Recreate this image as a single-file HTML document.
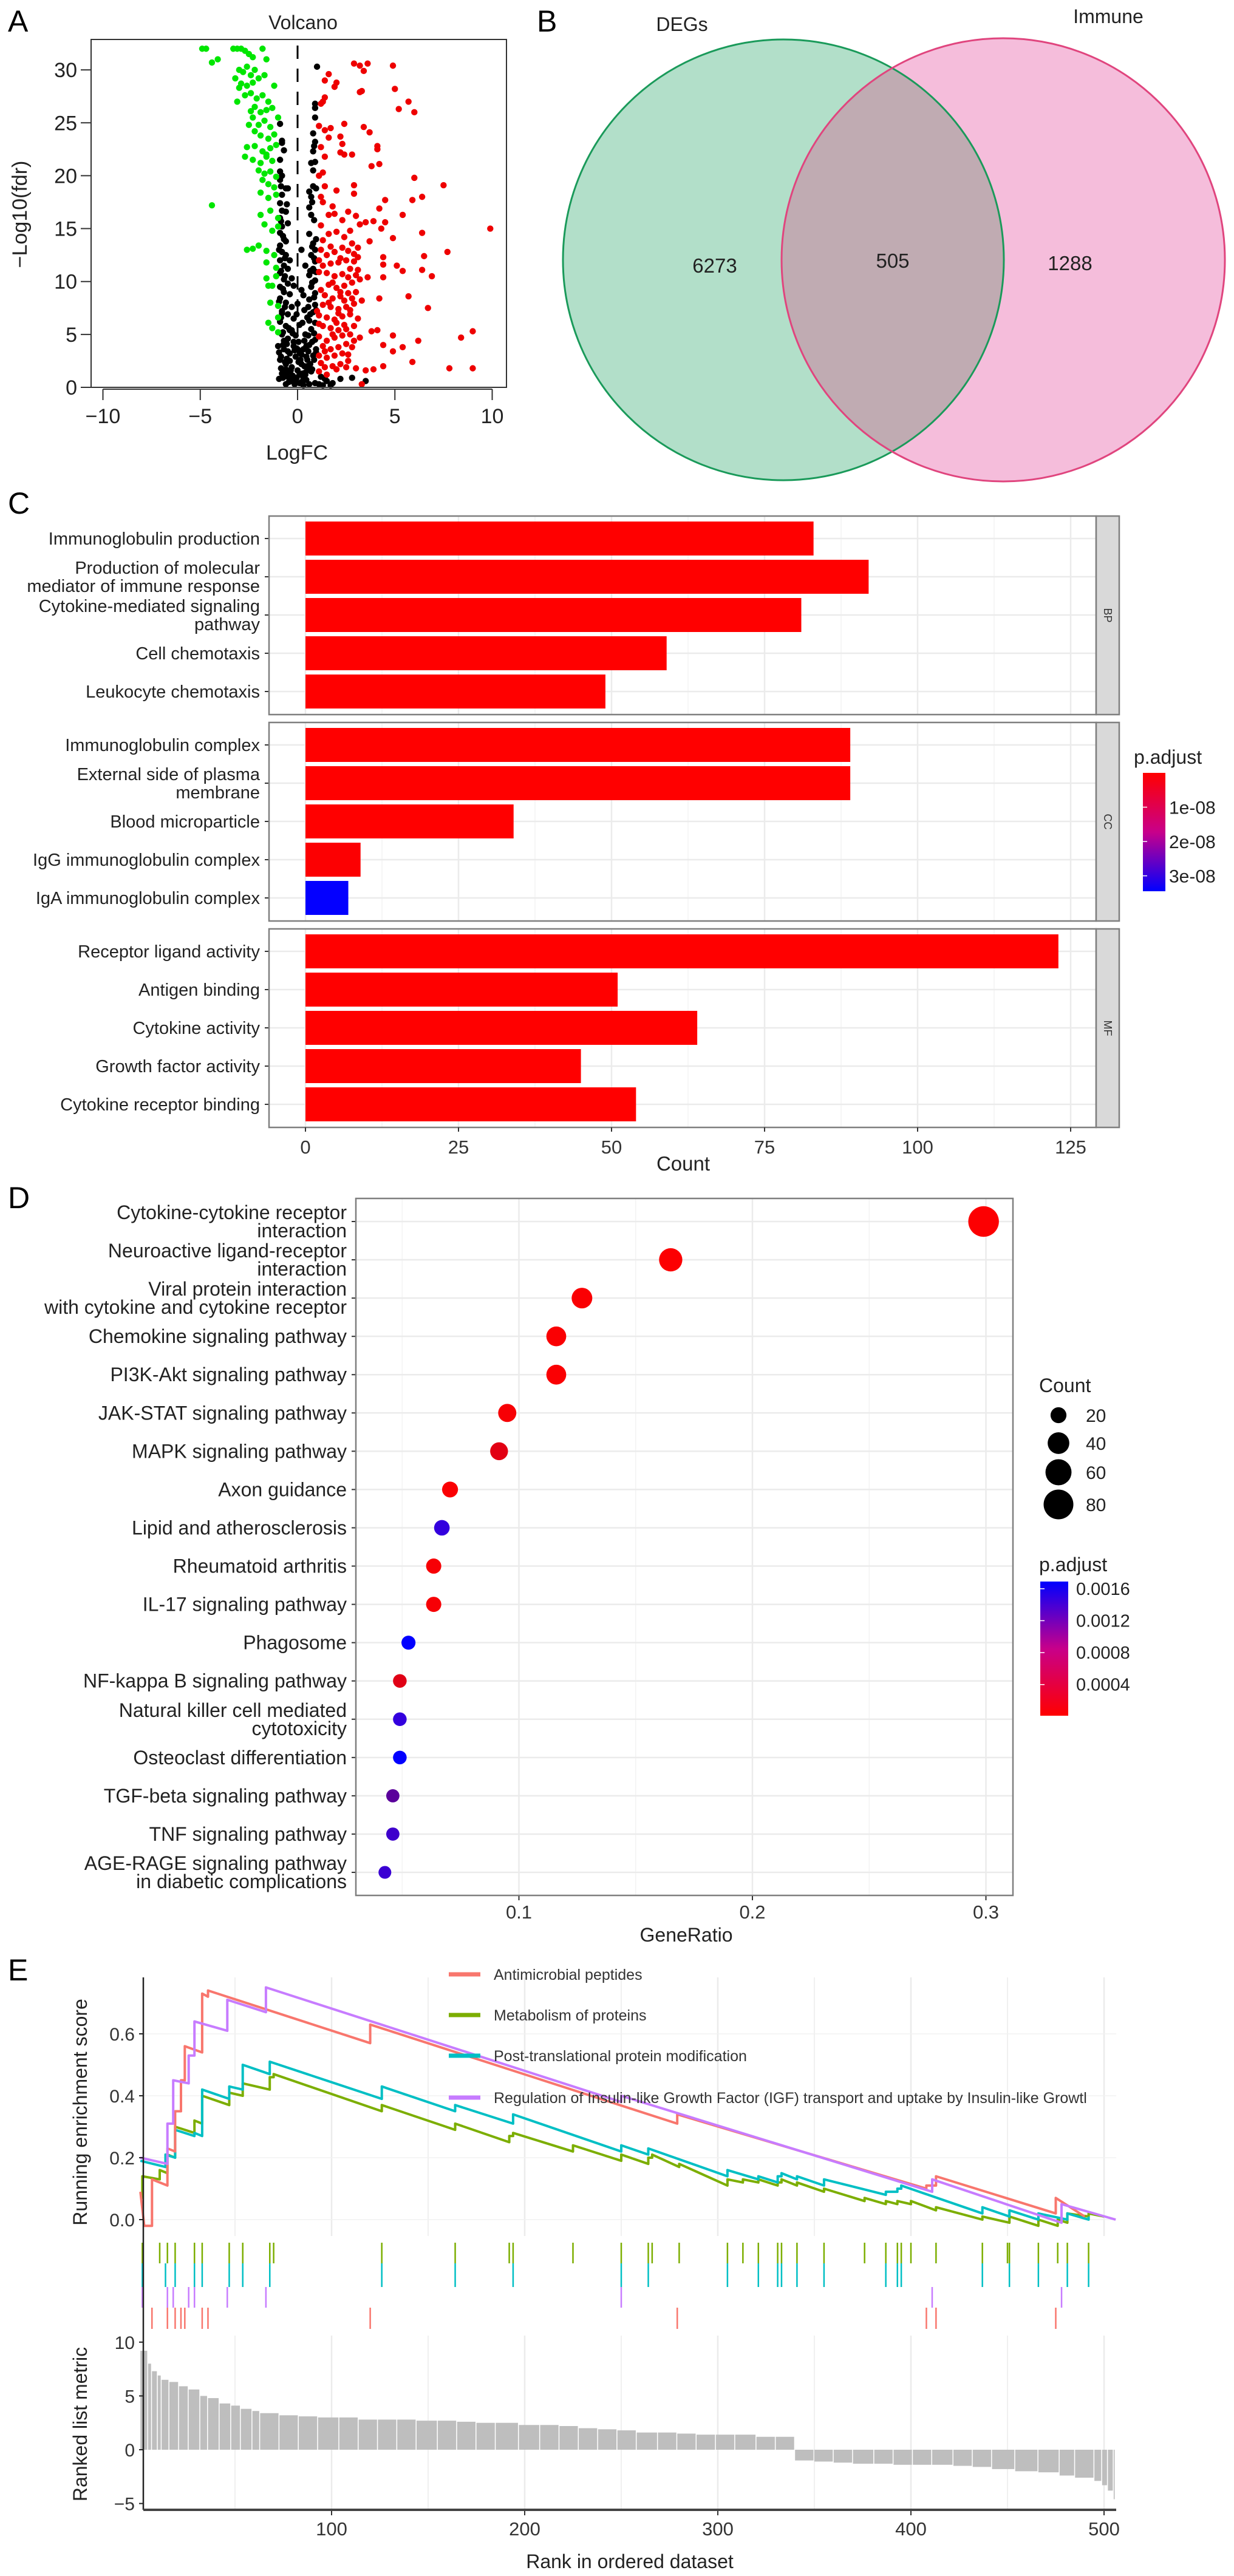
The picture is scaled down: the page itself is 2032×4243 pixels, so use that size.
<!DOCTYPE html>
<html><head><meta charset="utf-8">
<style>
html,body{margin:0;padding:0;background:#fff;}
svg{display:block;font-family:"Liberation Sans",Arial,sans-serif;}
</style></head>
<body>
<svg id="fig" xmlns="http://www.w3.org/2000/svg" width="2032" height="4243" viewBox="0 0 2032 4243">
<rect x="0" y="0" width="2032" height="4243" fill="#fff"/>
<text x="13" y="52" font-size="50">A</text>
<text x="884" y="52" font-size="50">B</text>
<text x="13" y="846" font-size="50">C</text>
<text x="13" y="1990" font-size="50">D</text>
<text x="13" y="3262" font-size="50">E</text>
</svg>
<script>
// ---------- DATA ----------
const downX=[-4.9,-4.7,-4.4,-4.1,-3.3,-3.1,-2.9,-2.7,-2.5,-2.3,-1.8,-1.6,-3.0,-2.8,-2.6,-2.4,-2.2,-3.2,-2.9,-2.6,-2.3,-2.0,-1.7,-1.2,-2.7,-2.4,-2.1,-1.8,-1.5,-3.1,-2.2,-1.9,-1.6,-1.3,-1.0,-2.3,-2.0,-1.7,-1.4,-2.2,-1.9,-1.5,-1.2,-2.6,-2.2,-1.8,-1.4,-1.1,-2.7,-2.3,-1.9,-1.6,-1.3,-2.0,-1.7,-1.4,-1.1,-1.8,-1.5,-1.2,-1.9,-1.5,-1.1,-4.4,-1.9,-1.4,-1.0,-1.7,-1.3,-1.0,-2.0,-2.6,-2.3,-1.6,-1.2,-1.6,-1.1,-1.6,-1.1,-1.5,-1.3,-1.4,-1.0,-1.0,-1.5,-1.3,-1.0,-2.5,-3.0,-1.6,-2.4];
const downY=[32,32,30.7,31,32,32,32,31.8,31.5,31.2,32,31,30,29.8,30.3,29.5,30,29.2,28.7,28.5,28.8,29.2,29.5,28.5,27.6,27.8,27.3,27.6,27.0,27,26.5,26.0,26.2,26.4,25.5,25.5,24.8,25.2,24.6,24.2,23.8,23.5,23.9,22.7,22.8,22.3,22.6,22.9,21.8,21.5,21.2,21.8,21.4,20.5,20.2,20.4,19.9,19.6,19.2,18.9,18.4,17.9,18.2,17.2,16.3,16.7,16,15.4,14.8,15.2,13.4,13.0,13.1,12.9,12.5,11.8,11.3,10.3,10.5,9.6,9.6,8.0,7.7,6.6,6.1,5.6,5.2,24.8,28.3,22.0,26.1];
const upX=[9.9,9.0,9.0,8.4,7.8,7.7,7.5,6.9,6.7,6.5,6.4,6.4,6.4,6.2,6.0,6.0,5.9,5.9,5.7,5.7,5.4,5.4,5.4,5.2,5.1,5.0,4.9,4.9,4.9,4.9,4.5,4.5,4.4,4.4,4.4,4.4,4.4,4.3,4.2,4.1,4.1,4.2,4.1,4.2,3.9,3.9,3.8,3.8,3.7,3.7,3.6,3.6,3.5,3.4,3.4,3.3,3.2,3.2,3.3,2.9,2.9,2.9,2.8,2.4,2.2,2.4,2.2,2.3,2.0,1.9,1.7,1.6,1.4,1.6,1.3,1.2,1.4,1.4,1.1,1.2,1.4,1.3,1.1,1.4,1.8,2.0,1.2,1.6,1.9,2.3,2.6,3.0,3.2,3.5,2.7,2.4,2.0,1.6,1.3,1.2,1.5,1.9,2.3,2.8,3.1,2.9,2.5,2.1,1.7,1.3,1.1,1.5,1.9,2.3,2.7,3.1,3.2,2.8,2.4,2.0,1.6,1.2,1.4,1.8,2.2,2.6,3.0,3.3,2.9,2.5,2.1,1.7,1.3,1.1,1.5,1.9,2.3,2.7,3.1,2.9,2.5,2.1,1.7,1.3,1.1,1.5,1.9,2.3,2.7,2.5,2.1,1.7,1.3,1.1,1.5,1.9,2.3,2.6,2.2,1.8,1.4,1.1,1.5,2.0,2.5,3.0,2.8,3.2,2.6,2.9,2.4,1.8,2.6,2.2,3.0,2.0,2.4,1.6,2.8,1.4,1.2,1.3,1.1,1.2,1.0,1.1,1.7,2.1,2.7,3.1,2.6,2.2,2.9,1.8];
const upY=[15,5.3,1.8,4.7,1.8,12.8,19.1,10.5,7.5,12.4,11.1,14.6,18,4.4,26,19.8,17.7,2.4,27,8.6,16.3,11,3.8,26.3,11.5,28.2,30.4,14.1,4.9,3.4,17.7,15.6,11.6,12.3,10.4,4.0,2.0,15.0,21.1,22.5,22.8,16.9,5.4,8.4,15.7,1.7,20.9,5.3,24.1,13.8,30.6,10.4,1.6,29.9,24.6,28.0,27.9,30.4,0.3,30.6,19.1,18.3,22,22,22.2,24.9,23.7,23,28.8,28.4,24.5,23.6,29.0,29.6,27.0,26.8,27.4,24.3,24.7,22.7,21.8,20.3,20,19.0,17.1,18.6,18.0,16.3,16.4,15.8,16.6,16.2,15.4,15.6,14.8,14.2,14.7,14.5,13.9,13.0,12.5,12.8,13.2,13.6,13.2,12.6,12.0,11.8,11.7,11.5,10.9,10.8,10.5,10.7,11.2,11.1,10.2,9.9,9.6,9.4,9.7,9.2,8.7,8.4,8.6,8.9,9.0,8.2,7.9,7.6,7.4,7.6,7.8,6.8,6.6,6.4,6.7,6.9,6.5,5.8,5.5,5.4,5.6,5.8,4.8,4.4,4.7,4.9,5.0,4.1,3.8,3.6,3.9,3.0,2.8,3.0,3.2,2.5,2.2,2.0,1.9,1.5,1.2,1.7,1.9,1.8,3.8,4.7,10.4,11.9,8.2,9.9,12.9,12.2,10.6,6.1,5.9,8.0,8.4,3.4,15.3,17.5,6.0,2.3,7.2,12.0,13.3,7.0,7.3,12.3,3.1,9.0,4.4,5.0];
const nsX=[1.0,-0.9,-0.8,-0.8,-0.7,-0.9,-0.9,-0.9,-0.6,-0.5,-0.8,-0.9,-0.8,-0.6,-0.9,-0.8,-0.9,-0.7,-0.9,-0.8,-0.6,-0.9,-0.7,-0.5,-0.9,-0.7,-0.5,-0.9,-0.7,-0.4,-0.9,-0.6,-0.3,-0.8,-0.5,-0.2,-0.9,-0.6,-0.3,-0.8,-0.5,-0.2,-1.0,-0.7,-0.4,-0.1,-0.9,-0.6,-0.3,0.0,-0.8,-0.5,-0.2,0.1,-0.6,0.3,0.6,0.9,1.3,1.8,2.2,2.8,3.5,0.4,0.7,0.2,0.5,0.8,0.3,0.6,0.9,0.4,0.7,0.9,0.5,0.8,0.9,0.6,0.9,0.7,0.9,0.6,0.8,0.9,0.7,0.9,0.8,0.6,0.7,0.6,0.7,0.6,0.8,0.8,0.9,0.8,0.9,0.8,0.9,0.9,0.9,0.2,-0.2,0.0,0.1,-0.1,0.2,0.0,-0.4,0.3,0.5,-0.3,0.3,-0.6,-0.5,0.4,-0.4,-0.8,0.7,-0.5,0.6,-0.7,0.1,-0.1,0.2,1.2,1.5,-0.3,-0.6,0.4,-0.2,0.5,-0.8,0.8,-0.4,0.2,
 -0.85,-0.75,-0.95,-0.65,-0.85,-0.75,-0.95,-0.65,-0.85,-0.75,-0.55,-0.95,-0.65,-0.85,-0.75,-0.45,-0.95,-0.35,-0.65,-0.25,-0.85,-0.15,-0.55,-0.05,-0.75,0.05,-0.45,0.15,-0.65,0.25,0.35,0.45,0.55,0.65,0.75,0.85,0.95,0.35,0.55,0.75,0.85,0.95,0.65,0.45,0.85,0.75,0.95,0.55,0.85,0.75,0.65,0.95,0.85,0.75,0.95,0.85,-0.35,0.15,-0.15,0.05,-0.25,0.25,-0.05,0.35,-0.45,0.45,1.1,1.4,1.7,0.95,-0.55,-0.85];
const nsY=[30.3,24.9,23.3,23.1,22.4,21.5,20.4,19.6,18.8,18.8,18.2,17.4,16.7,16.6,16.0,15.2,14.6,14.0,13.4,12.8,12.5,12.0,11.5,11.2,10.8,10.2,9.8,9.5,9.0,8.8,8.4,8.0,7.6,7.2,6.9,6.5,6.2,5.8,5.4,5.0,4.6,4.3,3.9,3.6,3.2,2.9,2.6,2.2,1.9,1.6,1.3,1.0,0.7,0.4,0.3,0.2,0.3,0.4,0.2,0.4,0.8,0.9,0.6,1.2,1.5,2.2,2.6,3.0,3.6,4.0,4.5,5.0,5.5,6.1,6.6,7.1,7.8,8.3,8.9,9.5,10.1,10.6,11.2,11.9,12.5,13.0,13.6,14.5,16.3,17.0,18.0,18.5,19.0,20.5,21.3,22.3,23.2,24.0,25.5,26.4,26.8,13.0,9.6,7.9,5.9,4.9,3.1,3.6,2.5,0.9,1.8,10.3,8.7,13.8,15.5,11.5,12.0,20.0,21.2,3.4,6.3,4.4,1.2,0.5,0.5,1.0,0.6,0.6,1.7,1.4,3.9,2.0,7.0,11.0,5.4,9.2,
 15.7,14.3,13.0,12.2,11.0,9.3,8.1,7.6,6.6,5.2,4.1,3.3,2.4,1.8,0.9,1.5,0.8,0.6,1.2,1.1,2.9,0.3,2.7,0.9,4.0,2.4,5.6,3.4,10.5,1.3,2.0,2.9,3.4,2.2,1.7,2.6,3.6,4.4,4.9,4.3,5.1,7.3,6.9,3.9,8.5,9.9,10.9,7.6,12.2,13.3,11.0,14.0,15.8,17.5,18.8,22.8,1.6,2.6,3.5,4.3,5.1,6.1,6.9,7.3,0.5,0.7,0.3,0.8,0.2,3.3,17.3,19.0];
const volXTicks=[-10,-5,0,5,10];
const volYTicks=[0,5,10,15,20,25,30];

const vennLabels=['DEGs','Immune'];
const vennCounts=[6273,505,1288];

const goPanels=['BP','CC','MF'];
const goTerms=[
 [['Immunoglobulin production'],['Production of molecular','mediator of immune response'],['Cytokine-mediated signaling','pathway'],['Cell chemotaxis'],['Leukocyte chemotaxis']],
 [['Immunoglobulin complex'],['External side of plasma','membrane'],['Blood microparticle'],['IgG immunoglobulin complex'],['IgA immunoglobulin complex']],
 [['Receptor ligand activity'],['Antigen binding'],['Cytokine activity'],['Growth factor activity'],['Cytokine receptor binding']]];
const goCounts=[[83,92,81,59,49],[89,89,34,9,7],[123,51,64,45,54]];
const goPadj=[[1e-12,1e-12,1e-12,1e-12,1e-12],[1e-12,1e-12,1e-11,2e-10,3.4e-08],[1e-12,1e-12,1e-12,1e-12,1e-12]];
const goXTicks=[0,25,50,75,100,125];
const goLegendTicks=[1e-08,2e-08,3e-08];
const goLegendLabels=['1e-08','2e-08','3e-08'];

const keggTerms=[['Cytokine-cytokine receptor','interaction'],['Neuroactive ligand-receptor','interaction'],['Viral protein interaction','with cytokine and cytokine receptor'],['Chemokine signaling pathway'],['PI3K-Akt signaling pathway'],['JAK-STAT signaling pathway'],['MAPK signaling pathway'],['Axon guidance'],['Lipid and atherosclerosis'],['Rheumatoid arthritis'],['IL-17 signaling pathway'],['Phagosome'],['NF-kappa B signaling pathway'],['Natural killer cell mediated','cytotoxicity'],['Osteoclast differentiation'],['TGF-beta signaling pathway'],['TNF signaling pathway'],['AGE-RAGE signaling pathway','in diabetic complications']];
const keggRatio=[0.299,0.165,0.127,0.116,0.116,0.095,0.0915,0.0705,0.067,0.0635,0.0635,0.0527,0.049,0.049,0.049,0.046,0.046,0.0426];
const keggCount=[85,47,36,33,33,27,26,20,19,18,18,15,14,14,14,13,13,12];
const keggPadj=[0.00002,0.00002,0.00003,0.00003,0.00003,0.00004,0.00012,0.00003,0.00128,0.00004,0.00004,0.00168,0.00013,0.00128,0.00168,0.0009,0.00118,0.00122];
const keggXTicks=[0.1,0.2,0.3];
const keggSizeLegend=[20,40,60,80];
const keggColorTicks=[0.0016,0.0012,0.0008,0.0004];

const gseaNames=['Antimicrobial peptides','Metabolism of proteins','Post-translational protein modification','Regulation of Insulin-like Growth Factor (IGF) transport and uptake by Insulin-like Growtl'];
const redRank=[1,3,7,7,15,15,19,19,22,22,24,24,33,33,36,36,120,120,279,279,408,408,413,413,475,475,490];
const redES=[0.09,-0.02,-0.02,0.13,0.11,0.23,0.22,0.35,0.35,0.45,0.45,0.56,0.54,0.73,0.72,0.74,0.57,0.63,0.31,0.34,0.10,0.11,0.11,0.14,0.02,0.07,0.01];
const greenRank=[1,2,2,11,11,15,15,19,19,29,29,33,33,47,47,54,54,68,68,70,70,126,126,164,164,192,192,194,194,225,225,250,250,264,264,266,266,280,280,305,305,313,313,321,321,331,331,333,333,341,341,355,355,376,376,387,387,393,393,400,400,413,413,437,437,451,451,466,466,476,476,481,481,492,492,500];
const greenES=[0.07,0.07,0.14,0.13,0.16,0.15,0.21,0.2,0.3,0.28,0.32,0.31,0.4,0.37,0.41,0.4,0.44,0.42,0.46,0.46,0.47,0.35,0.37,0.29,0.31,0.25,0.27,0.27,0.28,0.22,0.24,0.19,0.21,0.18,0.2,0.2,0.21,0.17,0.18,0.11,0.13,0.12,0.13,0.12,0.13,0.11,0.12,0.12,0.13,0.11,0.12,0.09,0.1,0.06,0.07,0.05,0.06,0.05,0.06,0.05,0.06,0.03,0.04,0.0,0.01,-0.01,0.01,-0.02,0.0,-0.02,0.0,-0.01,0.02,0.01,0.02,0.01];
const cyanRank=[1,14,14,19,19,29,29,33,33,47,47,54,54,68,68,126,126,164,164,194,194,250,250,264,264,305,305,321,321,331,331,333,333,341,341,355,355,387,387,393,393,395,395,437,437,451,451,466,466,481,481,492,492];
const cyanES=[0.19,0.17,0.21,0.2,0.29,0.27,0.28,0.27,0.42,0.39,0.43,0.42,0.5,0.47,0.51,0.39,0.43,0.35,0.37,0.31,0.34,0.22,0.24,0.21,0.23,0.14,0.16,0.13,0.14,0.12,0.14,0.14,0.15,0.13,0.14,0.11,0.13,0.08,0.09,0.09,0.1,0.1,0.11,0.02,0.04,0.01,0.03,0.0,0.02,0.0,0.02,0.0,0.01];
const purpleRank=[1,15,15,18,18,26,26,29,29,46,46,66,66,250,250,411,411,478,478,506];
const purpleES=[0.20,0.18,0.31,0.31,0.45,0.44,0.53,0.53,0.64,0.61,0.71,0.67,0.75,0.38,0.40,0.09,0.13,-0.01,0.05,0.0];
const greenHits=[2,11,15,19,29,33,47,54,68,70,126,164,192,194,225,250,264,266,280,305,313,321,331,333,341,355,376,387,393,395,400,413,437,450,451,466,476,481,492];
const cyanHits=[2,14,19,29,33,47,54,68,126,164,194,250,264,305,321,331,333,341,355,387,393,395,437,451,466,481,492];
const purpleHits=[2,15,18,26,29,46,66,250,411,478];
const redHits=[7,15,19,22,24,33,36,120,279,408,413,475];
const metricRank=[1,5,7,10,12,16,21,26,32,36,42,48,53,59,63,73,83,93,104,114,124,134,144,155,165,175,185,197,208,218,228,238,248,258,269,279,289,299,309,320,330,340,350,360,370,381,391,401,411,422,432,442,454,466,477,485,495,499,502,505,506];
const metricVal=[9.2,8.0,7.3,6.9,6.5,6.3,5.9,5.6,5.0,4.8,4.3,4.1,3.8,3.6,3.4,3.2,3.1,3.0,3.0,2.8,2.8,2.8,2.7,2.7,2.6,2.5,2.5,2.3,2.3,2.2,2.0,1.9,1.8,1.6,1.6,1.5,1.4,1.4,1.4,1.2,1.2,-1.0,-1.1,-1.2,-1.3,-1.3,-1.4,-1.4,-1.4,-1.5,-1.6,-1.8,-2.0,-2.1,-2.4,-2.6,-2.9,-3.3,-3.8,-4.6];
const esTicks=[0.0,0.2,0.4,0.6];
const metricTicks=[10,5,0,-5];
const rankTicks=[100,200,300,400,500];

// ---------- HELPERS ----------
const NS='http://www.w3.org/2000/svg';
const svg=document.getElementById('fig');
function mk(tag,attrs,parent){const e=document.createElementNS(NS,tag);for(const k in attrs)e.setAttribute(k,attrs[k]);(parent||svg).appendChild(e);return e;}
function tx(str,attrs,parent){const e=mk('text',attrs,parent);e.textContent=str;return e;}
function lerpColor(t){t=Math.max(0,Math.min(1,t));const r=Math.round(255*(1-t)*(1-0.25*Math.sin(Math.PI*t))),g=0,b=Math.round(255*Math.min(1,t*1.15));return 'rgb('+r+','+g+','+b+')';}

// ---------- PANEL A ----------
const gA=mk('g',{});


const xV=v=>490+v*32.05, yV=v=>638-v*17.43;
let t=tx('Volcano',{x:499,y:48,'font-size':32,'text-anchor':'middle',fill:'#222'},gA);


let el=mk('line',{x1:xV(0),x2:xV(0),y1:yV(32.3),y2:yV(0),stroke:'#000','stroke-width':3,'stroke-dasharray':'22,16'},gA);


function dots(xs,ys,col,name){for(let i=0;i<xs.length;i++){const c=mk('circle',{cx:xV(xs[i]),cy:yV(ys[i]),r:5.2,fill:col},gA);}}
dots(nsX,nsY,'#000','point-not-significant');
dots(downX,downY,'#00e600','point-down');
dots(upX,upY,'#ee0000','point-up');
el=mk('rect',{x:150,y:65,width:684,height:573,fill:'none',stroke:'#333','stroke-width':2},gA);


el=mk('line',{x1:xV(-10),x2:xV(10),y1:641,y2:641,stroke:'#333','stroke-width':2},gA);


volXTicks.forEach(v=>{
 const l=mk('line',{x1:xV(v),x2:xV(v),y1:641,y2:659,stroke:'#333','stroke-width':2},gA);
 
 
 const s=tx(v<0?'\u2212'+Math.abs(v):String(v),{x:xV(v),y:697,'font-size':34,'text-anchor':'middle',fill:'#222'},gA);
 
 
});
volYTicks.forEach(v=>{
 const l=mk('line',{x1:133,x2:150,y1:yV(v),y2:yV(v),stroke:'#333','stroke-width':2},gA);
 
 
 const s=tx(String(v),{x:127,y:yV(v)+12,'font-size':34,'text-anchor':'end',fill:'#222'},gA);
 
 
});
t=tx('LogFC',{x:489,y:757,'font-size':34,'text-anchor':'middle',fill:'#222'},gA);


t=tx('\u2212Log10(fdr)',{x:44,y:353,'font-size':34,'text-anchor':'middle',fill:'#222',transform:'rotate(-90 44 353)'},gA);



// ---------- PANEL B ----------
const gB=mk('g',{});


const defs=mk('defs',{});
const cp=mk('clipPath',{id:'clipG'},defs);
mk('circle',{cx:1290,cy:428,r:363},cp);
el=mk('circle',{cx:1290,cy:428,r:363,fill:'#b2dfc9'},gB);


el=mk('circle',{cx:1652,cy:428,r:365,fill:'#f5bddb'},gB);


el=mk('circle',{cx:1652,cy:428,r:365,fill:'#c0abb2','clip-path':'url(#clipG)'},gB);


el=mk('circle',{cx:1290,cy:428,r:363,fill:'none',stroke:'#1a9a5a','stroke-width':3},gB);


el=mk('circle',{cx:1652,cy:428,r:365,fill:'none',stroke:'#e0457e','stroke-width':3},gB);


t=tx(vennLabels[0],{x:1123,y:51,'font-size':32,'text-anchor':'middle',fill:'#222'},gB);


t=tx(vennLabels[1],{x:1825,y:38,'font-size':32,'text-anchor':'middle',fill:'#222'},gB);


[[1177,449],[1470,441],[1762,445]].forEach((p,i)=>{
 const s=tx(String(vennCounts[i]),{x:p[0],y:p[1],'font-size':33,'text-anchor':'middle',fill:'#222'},gB);
 
 
});

// ---------- PANEL C ----------
const gC=mk('g',{});


const xC=v=>503+v*10.08;
const panelTops=[850,1190,1530], panelH=327;
const padjMax=3.45e-08;
goPanels.forEach((pn,pi)=>{
 const top=panelTops[pi];
 const bg=mk('rect',{x:443,y:top,width:1362,height:panelH,fill:'#fff'},gC);
 
 
 for(let v=12.5;v<130;v+=25){const g=mk('line',{x1:xC(v),x2:xC(v),y1:top,y2:top+panelH,stroke:'#f3f3f3','stroke-width':1.5},gC);}
 goXTicks.forEach(v=>{const g=mk('line',{x1:xC(v),x2:xC(v),y1:top,y2:top+panelH,stroke:'#ebebeb','stroke-width':2.5},gC);});
 goCounts[pi].forEach((c,i)=>{
  const cy=top+37+i*63;
  const g=mk('line',{x1:443,x2:1805,y1:cy,y2:cy,stroke:'#ebebeb','stroke-width':2.5},gC);
  
  
  const b=mk('rect',{x:xC(0),y:cy-28,width:xC(c)-xC(0),height:56,fill:lerpColor(goPadj[pi][i]/padjMax)},gC);
  
  
  const tk=mk('line',{x1:436,x2:443,y1:cy,y2:cy,stroke:'#333','stroke-width':2},gC);
  
  
  const lines=goTerms[pi][i];
  const lab=tx('',{x:428,'font-size':29,'text-anchor':'end',fill:'#222'},gC);
  
  
  lines.forEach((ln,k)=>{const ts=mk('tspan',{x:428,y:cy+10+(lines.length===2?(k===0?-15:15):0)},lab);ts.textContent=ln;});
 });
 const fr=mk('rect',{x:443,y:top,width:1362,height:panelH,fill:'none',stroke:'#7f7f7f','stroke-width':2.5},gC);
 
 
 const st=mk('rect',{x:1805,y:top,width:38,height:panelH,fill:'#d9d9d9',stroke:'#7f7f7f','stroke-width':2.5},gC);
 
 
 const sl=tx(pn,{x:1818,y:top+panelH/2,'font-size':18,'text-anchor':'middle',fill:'#333',transform:'rotate(90 1818 '+(top+panelH/2)+')'},gC);
 
 
});
goXTicks.forEach(v=>{
 const l=mk('line',{x1:xC(v),x2:xC(v),y1:1857,y2:1864,stroke:'#333','stroke-width':2},gC);
 
 
 const s=tx(String(v),{x:xC(v),y:1900,'font-size':31,'text-anchor':'middle',fill:'#333'},gC);
 
 
});
t=tx('Count',{x:1125,y:1928,'font-size':33,'text-anchor':'middle',fill:'#222'},gC);


const lgC=mk('linearGradient',{id:'gradC',x1:0,y1:0,x2:0,y2:1},defs);
mk('stop',{offset:'0','stop-color':'#ff0000'},lgC);mk('stop',{offset:'0.5','stop-color':'#c8008a'},lgC);mk('stop',{offset:'1','stop-color':'#0000ff'},lgC);
t=tx('p.adjust',{x:1867,y:1258,'font-size':32,fill:'#222'},gC);


el=mk('rect',{x:1882,y:1273,width:37,height:195,fill:'url(#gradC)'},gC);


const yLegC=v=>1273+v/padjMax*195;
goLegendTicks.forEach((v,i)=>{
 const l=mk('line',{x1:1882,x2:1889,y1:yLegC(v),y2:yLegC(v),stroke:'#fff','stroke-width':1.5},gC);
 
 
 const s=tx(goLegendLabels[i],{x:1925,y:yLegC(v)+11,'font-size':30,fill:'#222'},gC);
 
 
});

// ---------- PANEL D ----------
const gD=mk('g',{});


const xD=v=>470+v*3845, yD=i=>2012+i*63.06;
const pMin=0.00001,pMax=0.00169;
const rD=c=>1.7+2.55*Math.sqrt(c);
[0.05,0.15,0.25].forEach(v=>{const g=mk('line',{x1:xD(v),x2:xD(v),y1:1974,y2:3122,stroke:'#f3f3f3','stroke-width':1.5},gD);});
keggXTicks.forEach(v=>{const g=mk('line',{x1:xD(v),x2:xD(v),y1:1974,y2:3122,stroke:'#ebebeb','stroke-width':2.5},gD);});
keggTerms.forEach((lines,i)=>{
 const cy=yD(i);
 const g=mk('line',{x1:586,x2:1668,y1:cy,y2:cy,stroke:'#ebebeb','stroke-width':2.5},gD);
 
 
 const tk=mk('line',{x1:579,x2:586,y1:cy,y2:cy,stroke:'#333','stroke-width':2},gD);
 
 
 const lab=tx('',{x:571,'font-size':32,'text-anchor':'end',fill:'#222'},gD);
 
 
 lines.forEach((ln,k)=>{const ts=mk('tspan',{x:571,y:cy+11+(lines.length===2?(k===0?-15:15):0)},lab);ts.textContent=ln;});
});
keggRatio.forEach((v,i)=>{
 const c=mk('circle',{cx:xD(v),cy:yD(i),r:rD(keggCount[i]),fill:lerpColor((keggPadj[i]-pMin)/(pMax-pMin))},gD);
 
 
});
el=mk('rect',{x:586,y:1974,width:1082,height:1148,fill:'none',stroke:'#7f7f7f','stroke-width':2.5},gD);


keggXTicks.forEach(v=>{
 const l=mk('line',{x1:xD(v),x2:xD(v),y1:3123,y2:3130,stroke:'#333','stroke-width':2},gD);
 
 
 const s=tx(String(v),{x:xD(v),y:3160,'font-size':31,'text-anchor':'middle',fill:'#333'},gD);
 
 
});
t=tx('GeneRatio',{x:1130,y:3198,'font-size':32,'text-anchor':'middle',fill:'#222'},gD);


t=tx('Count',{x:1711,y:2293,'font-size':32,fill:'#222'},gD);


const sizeY=[2331,2377,2425,2478];
keggSizeLegend.forEach((c,i)=>{
 const d=mk('circle',{cx:1743,cy:sizeY[i],r:rD(c),fill:'#000'},gD);
 
 
 const s=tx(String(c),{x:1788,y:sizeY[i]+11,'font-size':30,fill:'#222'},gD);
 
 
});
const lgD=mk('linearGradient',{id:'gradD',x1:0,y1:0,x2:0,y2:1},defs);
mk('stop',{offset:'0','stop-color':'#0000ff'},lgD);mk('stop',{offset:'0.5','stop-color':'#c8008a'},lgD);mk('stop',{offset:'1','stop-color':'#ff0000'},lgD);
t=tx('p.adjust',{x:1711,y:2588,'font-size':32,fill:'#222'},gD);


el=mk('rect',{x:1713,y:2605,width:46,height:221,fill:'url(#gradD)'},gD);


const yLegD=v=>2826-(v-pMin)/(pMax-pMin)*221;
keggColorTicks.forEach(v=>{
 const l=mk('line',{x1:1713,x2:1720,y1:yLegD(v),y2:yLegD(v),stroke:'#fff','stroke-width':1.5},gD);
 
 
 const s=tx(v.toFixed(4),{x:1772,y:yLegD(v)+10,'font-size':29,fill:'#222'},gD);
 
 
});

// ---------- PANEL E ----------
const gE=mk('g',{});


const xE=r=>228+r*3.18, yES=v=>3656-v*510, yM=v=>4035-v*17.72;
const cols=['#F8766D','#7CAE00','#00BFC4','#C77CFF'];
for(let r=50;r<=500;r+=50){
 const g1=mk('line',{x1:xE(r),x2:xE(r),y1:3257,y2:3683,stroke:'#ebebeb','stroke-width':r%100===0?2.5:1.5},gE);
 
 
 const g2=mk('line',{x1:xE(r),x2:xE(r),y1:3847,y2:4134,stroke:'#ebebeb','stroke-width':r%100===0?2.5:1.5},gE);
 
 
}
esTicks.forEach(v=>{const g=mk('line',{x1:236,x2:1838,y1:yES(v),y2:yES(v),stroke:'#f2f2f2','stroke-width':1.5},gE);});
function curve(ranks,es,col,name){
 const p=ranks.map((r,i)=>xE(r).toFixed(1)+','+yES(es[i]).toFixed(1)).join(' ');
 const l=mk('polyline',{points:p,fill:'none',stroke:col,'stroke-width':4,'stroke-linejoin':'round'},gE);
 
 
}
curve(greenRank,greenES,cols[1],'es-line-metabolism');
curve(cyanRank,cyanES,cols[2],'es-line-post-translational');
curve(redRank,redES,cols[0],'es-line-antimicrobial');
curve(purpleRank,purpleES,cols[3],'es-line-igf-regulation');
const legY=[3252,3319,3386,3455];
gseaNames.forEach((n,i)=>{
 const l=mk('line',{x1:739,x2:791,y1:legY[i],y2:legY[i],stroke:cols[i],'stroke-width':7},gE);
 
 
 const s=tx(n,{x:813,y:legY[i]+9,'font-size':25,fill:'#333'},gE);
 
 
});
const hitSets=[greenHits,cyanHits,purpleHits,redHits];
const hitCols=[cols[1],cols[2],cols[3],cols[0]];
const hitRows=[[3694,3728],[3728,3767],[3767,3801],[3801,3836]];
hitSets.forEach((hs,k)=>{
 hs.forEach(r=>{
  const l=mk('line',{x1:xE(r),x2:xE(r),y1:hitRows[k][0],y2:hitRows[k][1],stroke:hitCols[k],'stroke-width':2.5},gE);
  
  
 });
});
for(let i=0;i<metricVal.length;i++){
 const v=metricVal[i];
 const x0=xE(metricRank[i]),x1=xE(metricRank[i+1]);
 const b=mk('rect',{x:x0,y:Math.min(yM(v),yM(0)),width:Math.max(1,x1-x0-1.5),height:Math.abs(yM(v)-yM(0)),fill:'#bebebe'},gE);
 
 
}
el=mk('line',{x1:236,x2:236,y1:3257,y2:4134,stroke:'#222','stroke-width':2.5},gE);


el=mk('line',{x1:236,x2:1838,y1:4134,y2:4134,stroke:'#444','stroke-width':4},gE);


esTicks.forEach(v=>{
 const l=mk('line',{x1:229,x2:236,y1:yES(v),y2:yES(v),stroke:'#222','stroke-width':2},gE);
 
 
 const s=tx(v.toFixed(1),{x:222,y:yES(v)+11,'font-size':30,'text-anchor':'end',fill:'#333'},gE);
 
 
});
metricTicks.forEach(v=>{
 const l=mk('line',{x1:229,x2:236,y1:yM(v),y2:yM(v),stroke:'#222','stroke-width':2},gE);
 
 
 const s=tx(v<0?'\u2212'+Math.abs(v):String(v),{x:222,y:yM(v)+11,'font-size':30,'text-anchor':'end',fill:'#333'},gE);
 
 
});
rankTicks.forEach(v=>{
 const l=mk('line',{x1:xE(v),x2:xE(v),y1:4136,y2:4143,stroke:'#333','stroke-width':2},gE);
 
 
 const s=tx(String(v),{x:xE(v),y:4176,'font-size':31,'text-anchor':'middle',fill:'#333'},gE);
 
 
});
t=tx('Rank in ordered dataset',{x:1037,y:4230,'font-size':32,'text-anchor':'middle',fill:'#222'},gE);


t=tx('Running enrichment score',{x:143,y:3479,'font-size':32,'text-anchor':'middle',fill:'#222',transform:'rotate(-90 143 3479)'},gE);


t=tx('Ranked list metric',{x:143,y:3993,'font-size':32,'text-anchor':'middle',fill:'#222',transform:'rotate(-90 143 3993)'},gE);


</script>
</body></html>
